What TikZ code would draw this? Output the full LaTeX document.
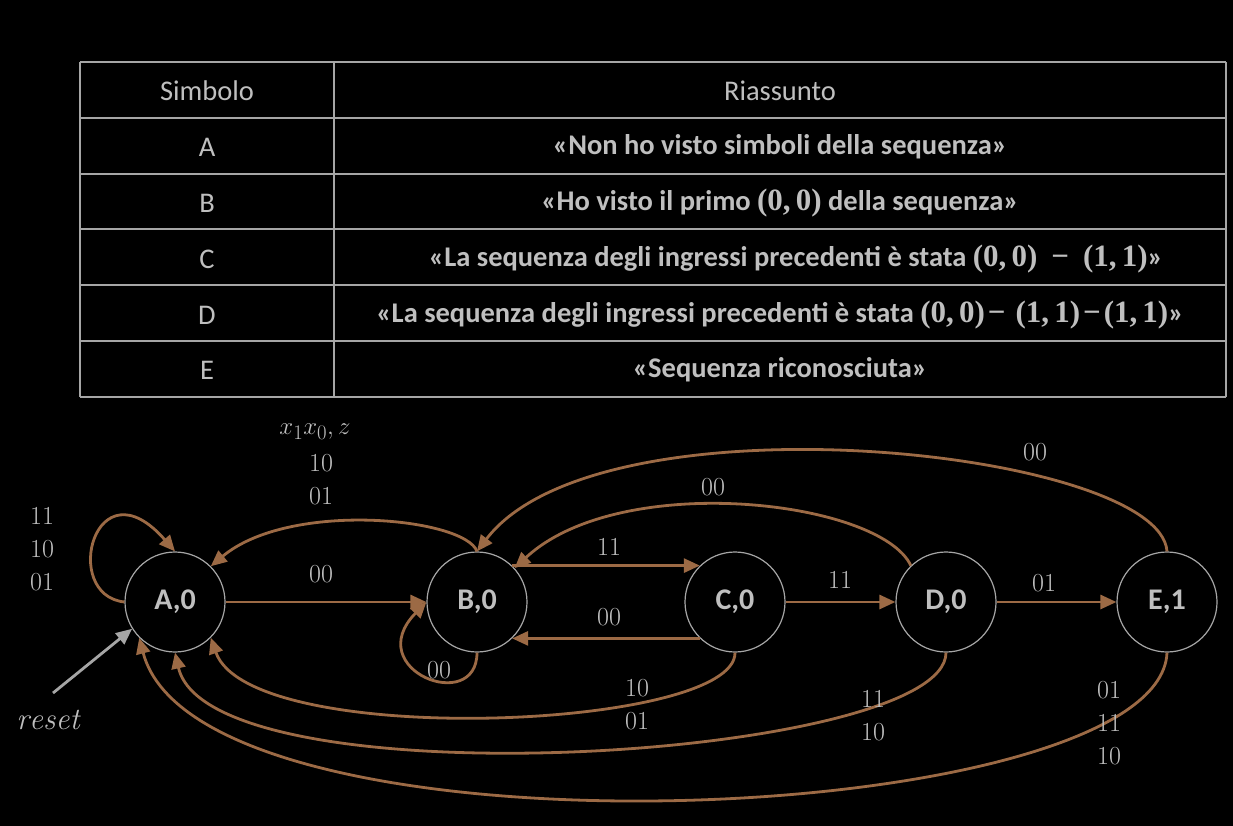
\documentclass[tikz,border=0pt]{standalone}
\usepackage{fontspec}
\newfontfamily\calibri{Carlito}
\newfontfamily\serifb{Liberation Serif}
\newcommand{\mth}[1]{{\serifb\bfseries\fontsize{31}{33}\selectfont #1}}
\usetikzlibrary{arrows.meta}
\definecolor{brn}{RGB}{156,106,69}
\definecolor{txt}{RGB}{191,191,191}
\definecolor{ln}{RGB}{166,166,166}
\begin{document}
\begin{tikzpicture}[x=1pt,y=-1pt,
  tbl/.style={font=\calibri\fontsize{28.5}{33}\selectfont, text=txt},
  tblb/.style={font=\calibri\bfseries\fontsize{28.5}{33}\selectfont, text=txt},
  state/.style={circle, draw=ln, line width=1.2pt, minimum size=100pt, inner sep=0pt,
    font=\calibri\bfseries\fontsize{30}{36}\selectfont, text=txt},
  lbl/.style={font=\fontsize{26}{33}\selectfont, text=txt, align=center},
  mlbl/.style={font=\fontsize{31}{36}\selectfont, text=txt},
  edge/.style={draw=brn, line width=2.8pt, -{Triangle[length=16pt,width=14pt]}},
  tline/.style={draw=ln, line width=2pt}]
\fill[black] (0,0) rectangle (1233,826);
\useasboundingbox (0,0) rectangle (1233,826);
% table
\foreach \yy in {62,117.8,173.6,229.4,285.2,341,396.8} \draw[tline] (80,\yy) -- (1226,\yy);
\foreach \xx in {80,334,1226} \draw[tline] (\xx,62) -- (\xx,396.8);
\node[tbl] (h1) at (207,91) {Simbolo};
\node[tbl] (h2) at (780,91) {Riassunto};
\node[tbl] (sa) at (207,147) {A};
\node[tbl] (sb) at (207,203) {B};
\node[tbl] (sc) at (207,259) {C};
\node[tbl] (sd) at (207,315) {D};
\node[tbl] (se) at (207,370) {E};
\node[tblb] (ra) at (780,147) {«Non ho visto simboli della sequenza»};
\node[tblb] (rb) at (780,203) {«Ho visto il primo \mth{(0,\,0)} della sequenza»};
\node[tblb] (rc) at (796,259) {«La sequenza degli ingressi precedenti è stata \mth{(0,\,0)\hspace{14pt}−\hspace{14pt}(1,\,1)}»};
\node[tblb] (rd) at (780,315) {«La sequenza degli ingressi precedenti è stata \mth{(0,\,0)\hspace{3pt}−\hspace{10pt}(1,\,1)\hspace{3pt}−\hspace{3pt}(1,\,1)}»};
\node[tblb] (re) at (780,370) {«Sequenza riconosciuta»};
% states
\node[state] (A) at (175,602) {A,0};
\node[state] (B) at (477,602) {B,0};
\node[state] (C) at (735,602) {C,0};
\node[state] (D) at (946,602) {D,0};
\node[state] (E) at (1167,602) {E,1};
% edges
\draw[edge] (A.east) -- (B.west);
\draw[edge] (A.west) .. controls (60,595) and (95,460) .. (A.north);
\draw[edge] (B.north) .. controls (465,518) and (290,500) .. (A.45);
\draw[edge] (B.south) .. controls (477,715) and (360,670) .. (B.west);
\draw[edge] (B.46) -- (C.134);
\draw[edge] (C.226) -- (B.314);
\draw[edge] (C.east) -- (D.west);
\draw[edge] (D.east) -- (E.west);
\draw[edge] (D.134) .. controls (880,500) and (620,470) .. (B.42);
\draw[edge] (E.north) .. controls (1160,450) and (600,390) .. (B.90);
\draw[edge] (C.south) .. controls (736,730) and (250,750) .. (A.315);
\draw[edge] (D.south) .. controls (946,760) and (210,805) .. (A.south);
\draw[edge] (E.south) .. controls (1160,830) and (200,870) .. (A.225);
\coordinate (r0) at (53,693);
\draw[draw=ln, line width=2.8pt, -{Triangle[length=16pt,width=14pt]}] (r0) -- (A.212);
% labels
\node[mlbl] (lhead) at (315,432) {$x_1x_0,z$};
\node[lbl] (lba) at (321,480) {10\\01};
\node[lbl] (lab) at (321,574) {00};
\node[lbl] (laa) at (42,549) {11\\10\\01};
\node[lbl] (lbb) at (439,670) {00};
\node[lbl] (lbc) at (609,547) {11};
\node[lbl] (lcb) at (609,617) {00};
\node[lbl] (ldb) at (713,487) {00};
\node[lbl] (lca) at (637,705) {10\\01};
\node[lbl] (lcd) at (840,580) {11};
\node[lbl] (lde) at (1044,583) {01};
\node[lbl] (leb) at (1035,452) {00};
\node[lbl] (lda) at (873,716) {11\\10};
\node[lbl] (lea) at (1109,723) {01\\11\\10};
\node[mlbl] (lreset) at (48,720) {$\mathit{reset}$};
\end{tikzpicture}
\end{document}
